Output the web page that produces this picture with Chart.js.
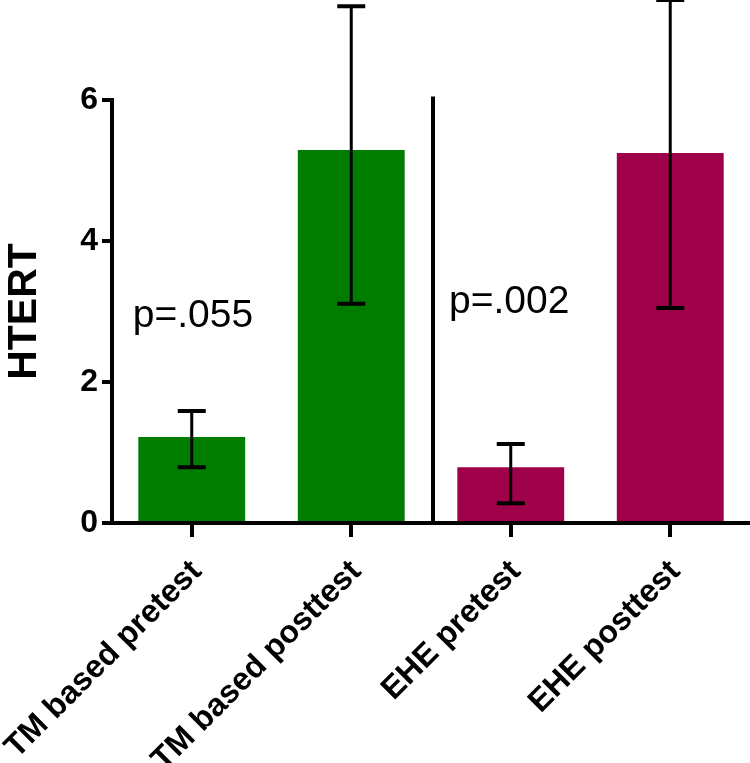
<!DOCTYPE html>
<html>
<head>
<meta charset="utf-8">
<script src="https://cdn.jsdelivr.net/npm/chart.js@4"></script>
<style>
  html, body { margin: 0; padding: 0; background: #fff; }
  #wrap { width: 750px; height: 763px; }
</style>
</head>
<body>
<div id="wrap"><canvas id="htertChart"></canvas></div>
<script>
const categories = ["TM based pretest", "TM based posttest", "EHE pretest", "EHE posttest"];
const means = [1.22, 5.29, 0.79, 5.25];
const errLow = [0.79, 3.11, 0.28, 3.05];
const errHigh = [1.59, 7.33, 1.12, 7.42];
const barColors = ["#007d00", "#007d00", "#9f004a", "#9f004a"];
const yTicks = [0, 2, 4, 6];
const pLabels = ["p=.055", "p=.002"];

const FONT = "'Liberation Sans', Arial, sans-serif";

// error bars, divider axis between groups, p-value texts
const extras = {
  id: "extras",
  afterDatasetsDraw(chart) {
    const ctx = chart.ctx;
    const x = chart.scales.x;
    const y = chart.scales.y;
    const meta = chart.getDatasetMeta(0);
    ctx.save();
    ctx.strokeStyle = "#000";
    meta.data.forEach((bar, i) => {
      const yh = y.getPixelForValue(errHigh[i]);
      const yl = y.getPixelForValue(errLow[i]);
      ctx.lineWidth = 3;
      ctx.beginPath();
      ctx.moveTo(bar.x, yh);
      ctx.lineTo(bar.x, yl);
      ctx.stroke();
      ctx.lineWidth = 4;
      ctx.beginPath();
      ctx.moveTo(bar.x - 14, yh);
      ctx.lineTo(bar.x + 14, yh);
      ctx.moveTo(bar.x - 14, yl);
      ctx.lineTo(bar.x + 14, yl);
      ctx.stroke();
    });

    // second axis line between the two groups
    const xd = (x.getPixelForValue(1) + x.getPixelForValue(2)) / 2 + 2;
    ctx.lineWidth = 4;
    ctx.beginPath();
    ctx.moveTo(xd, y.getPixelForValue(6.05));
    ctx.lineTo(xd, y.getPixelForValue(0));
    ctx.stroke();

    ctx.fillStyle = "#000";
    ctx.font = "39px " + FONT;
    ctx.textAlign = "left";
    ctx.textBaseline = "alphabetic";
    ctx.fillText(pLabels[0], x.getPixelForValue(0) - 59, y.getPixelForValue(2.78));
    ctx.fillText(pLabels[1], xd + 16, y.getPixelForValue(2.98));
    ctx.restore();
  }
};

new Chart(document.getElementById("htertChart").getContext("2d"), {
  type: "bar",
  data: {
    labels: categories,
    datasets: [
      {
        label: "HTERT",
        data: means,
        backgroundColor: barColors,
        borderWidth: 0,
        barPercentage: 0.67,
        categoryPercentage: 1.0,
      },
    ],
  },
  options: {
    responsive: true,
    maintainAspectRatio: false,
    animation: false,
    layout: { padding: { top: 100, left: 0, right: 0, bottom: 0 } },
    plugins: {
      legend: { display: false },
      tooltip: { enabled: false },
    },
    scales: {
      x: {
        grid: {
          display: true,
          drawOnChartArea: false,
          drawTicks: true,
          offset: false,
          tickLength: 14,
          lineWidth: 4,
          color: "#000",
        },
        border: { display: true, width: 4, color: "#000" },
        ticks: {
          color: "#000",
          font: { family: FONT, size: 32, weight: "bold" },
          minRotation: 45,
          maxRotation: 45,
          padding: 16,
          labelOffset: 5,
        },
        afterFit(scale) {
          scale.height = 240;
          scale.paddingLeft = 0;
          scale.paddingRight = 0;
        },
      },
      y: {
        min: 0,
        max: 6,
        afterBuildTicks(scale) {
          scale.ticks = yTicks.map((v) => ({ value: v }));
        },
        grid: {
          display: true,
          drawOnChartArea: false,
          drawTicks: true,
          tickLength: 10,
          lineWidth: 4,
          color: "#000",
        },
        border: { display: true, width: 4, color: "#000" },
        ticks: {
          color: "#000",
          font: { family: FONT, size: 32, weight: "bold" },
          padding: 4,
        },
        title: {
          display: true,
          text: "HTERT",
          color: "#000",
          font: { family: FONT, size: 41, weight: "bold" },
          padding: 0,
        },
        afterFit(scale) {
          scale.width = 112;
        },
      },
    },
  },
  plugins: [extras],
});
</script>
</body>
</html>
